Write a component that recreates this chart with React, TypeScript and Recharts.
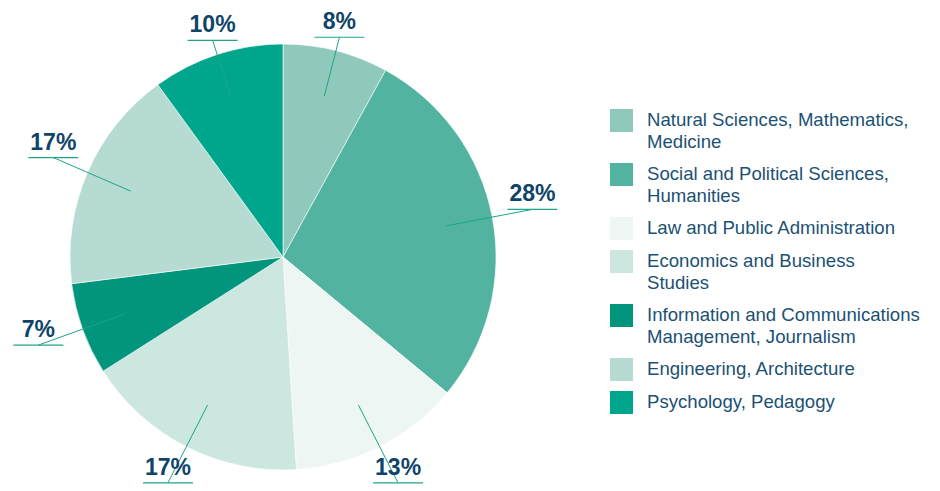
import { PieChart, Pie, Cell, Legend } from "recharts";

const categories = [
  "Natural Sciences, Mathematics,\nMedicine",
  "Social and Political Sciences,\nHumanities",
  "Law and Public Administration",
  "Economics and Business\nStudies",
  "Information and Communications\nManagement, Journalism",
  "Engineering, Architecture",
  "Psychology, Pedagogy",
];
const shares = [8, 28, 13, 17, 7, 17, 10];
const colors = ["#8fc9bc", "#52b3a0", "#edf6f2", "#cce7df", "#00957c", "#b5dbd2", "#00a68b"];

const data = categories.map((name, i) => ({ name, value: shares[i] }));

const RADIAN = Math.PI / 180;
const LABEL_COLOR = "#0f4469";
const LINE_COLOR = "#1fa38a";

const renderLabel = (props: any) => {
  const { cx, cy, midAngle, outerRadius, value } = props;
  const cos = Math.cos(-midAngle * RADIAN);
  const sin = Math.sin(-midAngle * RADIAN);
  const r0 = outerRadius * 0.78;
  const r1 = outerRadius + 12 + 30 * cos * cos + 25 * Math.max(0, sin);
  const sx = cx + r0 * cos;
  const sy = cy + r0 * sin;
  const ex = cx + r1 * cos;
  const ey = cy + r1 * sin;
  return (
    <g>
      <line x1={sx} y1={sy} x2={ex} y2={ey} stroke={LINE_COLOR} strokeWidth={1} />
      <line x1={ex - 25} y1={ey} x2={ex + 25} y2={ey} stroke={LINE_COLOR} strokeWidth={1.2} />
      <text
        x={ex}
        y={ey - 8}
        textAnchor="middle"
        fill={LABEL_COLOR}
        fontSize={23}
        fontWeight="bold"
        fontFamily="'Liberation Sans', Arial, sans-serif"
      >
        {value}%
      </text>
    </g>
  );
};

const renderLegend = () => (
  <div style={{ fontFamily: "'Liberation Sans', Arial, sans-serif", fontSize: 18.6, color: "#1b5174" }}>
    {data.map((d, i) => (
      <div key={d.name} style={{ display: "flex", alignItems: "flex-start", marginBottom: 10 }}>
        <div style={{ width: 23, height: 23, background: colors[i], flexShrink: 0, marginRight: 14 }} />
        <div style={{ whiteSpace: "pre-line", lineHeight: "22px" }}>{d.name}</div>
      </div>
    ))}
  </div>
);

export default function App() {
  return (
    <div style={{ position: "absolute", left: 0, top: 0, width: 940, height: 491, background: "#fff" }}>
      <PieChart width={940} height={491} margin={{ top: 0, right: 0, bottom: 0, left: 0 }}>
        <Pie
          data={data}
          dataKey="value"
          nameKey="name"
          cx={283}
          cy={257}
          outerRadius={213}
          startAngle={90}
          endAngle={-270}
          stroke="#ffffff"
          strokeWidth={0.6}
          label={renderLabel}
          labelLine={false}
          isAnimationActive={false}
        >
          {data.map((entry, index) => (
            <Cell key={`cell-${entry.name}`} fill={colors[index]} />
          ))}
        </Pie>
        <Legend
          content={renderLegend}
          layout="vertical"
          align="right"
          verticalAlign="top"
          wrapperStyle={{ position: "absolute", left: 610, top: 109, width: 330 }}
        />
      </PieChart>
    </div>
  );
}
